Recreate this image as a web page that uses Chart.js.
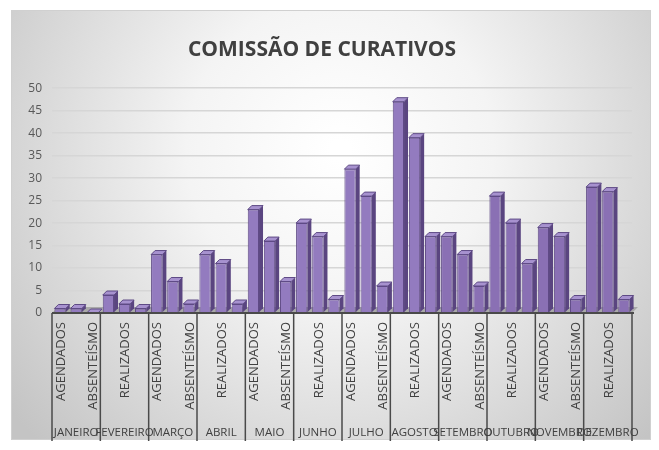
<!DOCTYPE html>
<html>
<head>
<meta charset="utf-8">
<script src="https://cdn.jsdelivr.net/npm/chart.js@4.4.1/dist/chart.umd.min.js"></script>
<style>
  html, body { margin: 0; padding: 0; background: #fff; }
  #wrap { width: 659px; height: 450px; }
</style>
</head>
<body>
<div id="wrap"><canvas id="chart" width="659" height="450"></canvas></div>
<script>
// Data
const months = ['JANEIRO', 'FEVEREIRO', 'MARÇO', 'ABRIL', 'MAIO', 'JUNHO',
  'JULHO', 'AGOSTO', 'SETEMBRO', 'OUTUBRO', 'NOVEMBRO', 'DEZEMBRO'];
const kinds = ['AGENDADOS', 'REALIZADOS', 'ABSENTEÍSMO'];
const agendados   = [1, 4, 13, 13, 23, 20, 32, 47, 17, 26, 19, 28];
const realizados  = [1, 2, 7, 11, 16, 17, 26, 39, 13, 20, 17, 27];
const absenteismo = [0, 1, 2, 2, 7, 3, 6, 17, 6, 11, 3, 3];
const yTicks = [0, 5, 10, 15, 20, 25, 30, 35, 40, 45, 50];

const labels = [];
const values = [];
months.forEach((m, i) => {
  [agendados[i], realizados[i], absenteismo[i]].forEach((v, k) => {
    labels.push(m + ' ' + kinds[k]);
    values.push(v);
  });
});

const FONT = "'Open Sans', sans-serif";
const BOX = { x: 11, y: 10, w: 640, h: 430 };

// grey radial backdrop like the Excel chart area
const backdrop = {
  id: 'backdrop',
  beforeDraw(chart) {
    const { ctx } = chart;
    ctx.save();
    ctx.fillStyle = '#fff';
    ctx.fillRect(0, 0, chart.width, chart.height);
    const g = ctx.createRadialGradient(340, 150, 10, 340, 150, 420);
    g.addColorStop(0, '#ffffff');
    g.addColorStop(0.35, '#f4f4f4');
    g.addColorStop(1, '#c4c4c4');
    ctx.fillStyle = g;
    ctx.fillRect(BOX.x, BOX.y, BOX.w, BOX.h);
    ctx.strokeStyle = '#d0d0d0';
    ctx.lineWidth = 1;
    ctx.strokeRect(BOX.x + 0.5, BOX.y + 0.5, BOX.w - 1, BOX.h - 1);
    ctx.restore();
  },
  beforeDatasetsDraw(chart) {
    // floor slab
    const { ctx, chartArea } = chart;
    ctx.save();
    ctx.fillStyle = '#a9a9a9';
    ctx.beginPath();
    ctx.moveTo(chartArea.left, chartArea.bottom);
    ctx.lineTo(chartArea.left + 6, chartArea.bottom - 6);
    ctx.lineTo(chartArea.right + 6, chartArea.bottom - 6);
    ctx.lineTo(chartArea.right, chartArea.bottom);
    ctx.closePath();
    ctx.fill();
    ctx.restore();
  }
};

// fake 3D: side and top faces for every bar
const depth = {
  id: 'depth',
  afterDatasetsDraw(chart) {
    const { ctx } = chart;
    const d = 4;
    ctx.save();
    chart.getDatasetMeta(0).data.forEach((bar) => {
      const l = bar.x - bar.width / 2;
      const r = bar.x + bar.width / 2;
      const t = bar.y;
      const b = bar.base;
      ctx.fillStyle = '#5a4580';
      ctx.beginPath();
      ctx.moveTo(r, b);
      ctx.lineTo(r, t);
      ctx.lineTo(r + d, t - d);
      ctx.lineTo(r + d, b - d);
      ctx.closePath();
      ctx.fill();
      ctx.fillStyle = '#a792cf';
      ctx.strokeStyle = '#5e4a85';
      ctx.lineWidth = 1;
      ctx.beginPath();
      ctx.moveTo(l, t);
      ctx.lineTo(l + d, t - d);
      ctx.lineTo(r + d, t - d);
      ctx.lineTo(r, t);
      ctx.closePath();
      ctx.fill();
      ctx.stroke();
    });
    ctx.restore();
  }
};

// two-level category axis: rotated kind labels + month row with separators
const catAxis = {
  id: 'catAxis',
  afterDraw(chart) {
    const { ctx, chartArea } = chart;
    const x = chart.scales.x;
    const bottom = chartArea.bottom;
    const n = months.length;
    ctx.save();
    ctx.strokeStyle = '#4a4a4a';
    ctx.lineWidth = 2;
    ctx.beginPath();
    ctx.moveTo(chartArea.left, bottom);
    ctx.lineTo(chartArea.right + 2, bottom);
    ctx.stroke();

    ctx.lineWidth = 1.5;
    const edges = [];
    for (let m = 0; m <= n; m++) {
      let px;
      if (m === 0) px = chartArea.left;
      else if (m === n) px = chartArea.right;
      else px = (x.getPixelForValue(m * 3 - 1) + x.getPixelForValue(m * 3)) / 2;
      edges.push(px);
      ctx.beginPath();
      ctx.moveTo(px, bottom);
      ctx.lineTo(px, 441);
      ctx.stroke();
    }

    ctx.fillStyle = '#404040';
    ctx.font = '13px ' + FONT;
    for (let i = 0; i < labels.length; i += 2) {
      ctx.save();
      ctx.translate(x.getPixelForValue(i) + 1, bottom + 9);
      ctx.rotate(-Math.PI / 2);
      ctx.textAlign = 'right';
      ctx.textBaseline = 'middle';
      ctx.fillText(kinds[i % 3], 0, 0);
      ctx.restore();
    }

    ctx.font = '11.5px ' + FONT;
    ctx.textAlign = 'center';
    ctx.textBaseline = 'middle';
    months.forEach((m, i) => {
      ctx.fillText(m, (edges[i] + edges[i + 1]) / 2, 433);
    });
    ctx.restore();
  }
};

new Chart(document.getElementById('chart'), {
  type: 'bar',
  data: {
    labels: labels,
    datasets: [{
      data: values,
      backgroundColor: (c) => {
        const i = c.dataIndex;
        return i < 24 ? '#937bbf' : '#8a70b4';
      },
      borderColor: '#5e4a85',
      borderWidth: 1,
      barPercentage: 0.7,
      categoryPercentage: 1
    }]
  },
  options: {
    responsive: false,
    animation: false,
    layout: { padding: { left: 12, right: 27, top: 10, bottom: 10 } },
    plugins: {
      legend: { display: false },
      tooltip: { enabled: false },
      title: {
        display: true,
        text: 'COMISSÃO DE CURATIVOS',
        color: '#404040',
        font: { family: FONT, size: 21, weight: 'bold' },
        padding: { top: 27, bottom: 26 }
      }
    },
    scales: {
      x: {
        ticks: { display: false },
        grid: { display: false },
        border: { display: false },
        afterFit: (s) => { s.height = 127; }
      },
      y: {
        min: 0,
        max: 50,
        afterBuildTicks: (s) => { s.ticks = yTicks.map(v => ({ value: v })); },
        ticks: { color: '#595959', font: { family: FONT, size: 12 }, padding: 10 },
        grid: { color: '#d6d6d6', lineWidth: 1.5, drawTicks: false },
        border: { display: false },
        afterFit: (s) => { s.width = 40; }
      }
    }
  },
  plugins: [backdrop, depth, catAxis]
});
</script>
</body>
</html>
